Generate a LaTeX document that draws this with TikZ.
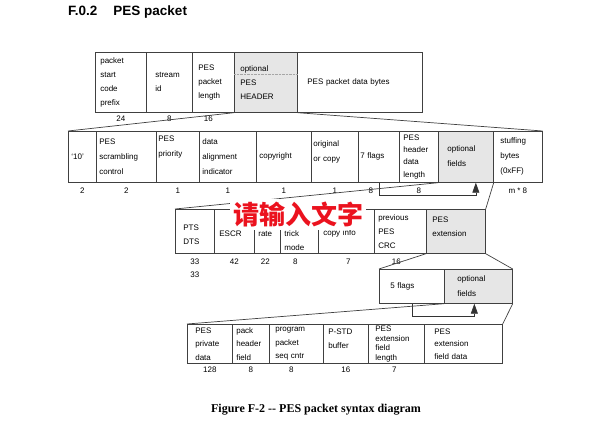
\documentclass[tikz,border=0pt]{standalone}
\usepackage{fontspec}
\setmainfont{Liberation Serif}
\setsansfont{Liberation Sans}
\newfontfamily\cjk{Noto Sans CJK SC}
\usepackage{tikz}
\usetikzlibrary{arrows.meta}
\definecolor{cellgray}{RGB}{230,230,230}
\definecolor{wmred}{RGB}{235,18,30}

\begin{document}
\begin{tikzpicture}[x=1pt, y=-1pt,
  fld/.style={draw=black!75, line width=0.7pt, anchor=north west, align=left, inner xsep=5pt, inner ysep=0pt,
    font=\sffamily\fontsize{8}{14}\selectfont},
  opt/.style={fld, fill=cellgray},
  row1/.style={minimum height=60pt},
  row2/.style={minimum height=51pt, font=\sffamily\fontsize{8}{15}\selectfont},
  row3/.style={minimum height=44pt},
  row4/.style={minimum height=34pt, font=\sffamily\fontsize{8}{15}\selectfont},
  row5/.style={minimum height=39pt, font=\sffamily\fontsize{8}{13.5}\selectfont},
  num/.style={font=\sffamily\fontsize{8}{13}\selectfont, align=center, inner sep=2pt},
  fan/.style={draw=black!75, line width=0.7pt},
  loop/.style={draw=black!80, line width=0.7pt, -{Triangle[length=10pt,width=7pt]}}
]
  \useasboundingbox (0,0) rectangle (600,426);

  \node[anchor=west, inner sep=0pt, font=\sffamily\bfseries\fontsize{13.5}{15}\selectfont] (title) at (68,12) {F.0.2\hspace{16pt}PES packet};

  % PES packet
  \node[fld, row1, text width=41pt] (pfx) at (95,52) {packet\\start\\code\\prefix};
  \node[fld, row1, text width=28pt, inner xsep=9pt] (sid) at (146,52) {stream\\id};
  \node[fld, row1, text width=30pt, inner xsep=6pt] (plen) at (192,52) {PES\\packet\\length};
  \node[opt, row1, text width=51pt, inner xsep=6pt] (hdr) at (234,52) {optional\\PES\\HEADER};
  \node[fld, row1, text width=105pt, inner xsep=10pt] (data) at (297,52) {PES packet data bytes};
  \draw[densely dotted, black!35] ([yshift=-22pt]hdr.north west) -- ([yshift=-22pt]hdr.north east);
  \node[num, below=1pt] (n24) at (pfx.south) {24};
  \node[num, below=1pt] (n8a) at (sid.south) {8};
  \node[num, below=1pt, xshift=-5pt] (n16a) at (plen.south) {16};

  % optional PES header
  \node[fld, row2, text width=22pt, inner xsep=3pt] (c10) at (68,131) {`10'};
  \node[fld, row2, text width=54pt, inner xsep=3pt] (scr) at (96,131) {PES\\scrambling\\control};
  \node[fld, row2, text width=39pt, inner xsep=2pt] (pri) at (156,131) {PES\\priority\\[6pt]\mbox{}};
  \node[fld, row2, text width=51pt, inner xsep=3pt] (dai) at (199,131) {data\\alignment\\indicator};
  \node[fld, row2, text width=49pt, inner xsep=3pt] (cpr) at (256,131) {copyright};
  \node[fld, row2, text width=43pt, inner xsep=2pt] (ooc) at (311,131) {original\\or copy\\[-4pt]\mbox{}};
  \node[fld, row2, text width=37pt, inner xsep=2pt] (flg7) at (358,131) {7 flags};
  \node[fld, row2, text width=31pt, inner xsep=4pt, font=\sffamily\fontsize{8}{12.3}\selectfont] (hdl) at (399,131) {PES\\header\\data\\length};
  \node[opt, row2, text width=37pt, inner xsep=9pt, text height=10pt, text depth=21pt] (optf) at (438,131) {optional\\fields};
  \node[fld, row2, text width=35pt, inner xsep=7pt] (stf) at (493,131) {stuffing\\bytes\\(0xFF)};
  \node[num, below=3pt] (n2a) at (c10.south) {2};
  \node[num, below=3pt] (n2b) at (scr.south) {2};
  \node[num, below=3pt] (n1a) at (pri.south) {1};
  \node[num, below=3pt] (n1b) at (dai.south) {1};
  \node[num, below=3pt] (n1c) at (cpr.south) {1};
  \node[num, below=3pt] (n1d) at (ooc.south) {1};
  \node[num, below=3pt, xshift=-8pt] (n8b) at (flg7.south) {8};
  \node[num, below=3pt] (n8c) at (hdl.south) {8};
  \node[num, below=3pt] (nm8) at (stf.south) {m * 8};
  \draw[fan] (hdr.south west) -- (c10.north west);
  \draw[fan] (hdr.south east) -- (stf.north east);
  \draw[loop] (flg7.south) -- ++(0,13) -| ([xshift=10pt]optf.south);

  % optional fields
  \node[fld, row3, text width=23pt, inner xsep=8pt, text height=15pt, text depth=16pt] (pts) at (175,209) {PTS\\DTS};
  \node[fld, row3, text width=30pt, text height=12pt, text depth=1pt] (escr) at (214,209) {ESCR};
  \node[fld, row3, text width=18pt, inner xsep=4pt, text height=12pt, text depth=2pt] (rate) at (254,209) {rate};
  \node[fld, row3, text width=30pt, inner xsep=4pt, text height=27pt, text depth=16pt] (trk) at (280,209) {trick\\mode};
  \node[fld, row3, text width=46pt, text height=11pt, text depth=2pt] (cpy) at (318,209) {copy info};
  \node[fld, row3, text width=44pt, inner xsep=4pt] (crc) at (374,209) {previous\\PES\\CRC};
  \node[opt, row3, text width=47pt, inner xsep=6pt] (ext) at (426,209) {PES\\extension\\[-4pt]\mbox{}};
  \node[num, below=3pt] (n33) at (pts.south) {33\\33};
  \node[num, below=3pt] (n42) at (escr.south) {42};
  \node[num, below=3pt, xshift=-2pt] (n22) at (rate.south) {22};
  \node[num, below=3pt, xshift=-4pt] (n8d) at (trk.south) {8};
  \node[num, below=3pt, xshift=2pt] (n7a) at (cpy.south) {7};
  \node[num, below=3pt, xshift=-4pt] (n16b) at (crc.south) {16};
  \draw[fan] (optf.south west) -- (pts.north west);
  \draw[fan] (optf.south east) -- (ext.north east);

  \node[fill=white, text=wmred, inner xsep=3pt, inner ysep=0pt, minimum height=31pt, font=\cjk\bfseries\fontsize{26}{28}\selectfont] (wm) at (298,214) {请输入文字};

  % PES extension
  \node[fld, row4, text width=43pt, inner xsep=11pt] (flg5) at (379,269) {5 flags};
  \node[opt, row4, text width=42pt, inner xsep=13pt] (opt2) at (444,269) {optional\\fields};
  \draw[fan] (ext.south west) -- (flg5.north west);
  \draw[fan] (ext.south east) -- (opt2.north east);
  \draw[loop] (flg5.south) -- ++(0,13) -| ([xshift=-4pt]opt2.south);

  % optional fields of PES extension
  \node[fld, row5, text width=29pt, inner xsep=8pt] (prv) at (187,324) {PES\\private\\data};
  \node[fld, row5, text width=29pt, inner xsep=4pt] (phf) at (232,324) {pack\\header\\field};
  \node[fld, row5, text width=42pt, inner xsep=6pt] (psc) at (269,324) {program\\packet\\seq cntr};
  \node[fld, row5, text width=35pt] (std) at (323,324) {P-STD\\buffer\\[-3pt]\mbox{}};
  \node[fld, row5, text width=42pt, inner xsep=7pt, font=\sffamily\fontsize{8}{9.5}\selectfont] (efl) at (368,324) {PES\\extension\\field\\length};
  \node[fld, row5, text width=58pt, inner xsep=10pt, font=\sffamily\fontsize{8}{12.5}\selectfont] (efd) at (424,324) {PES\\extension\\field data};
  \node[num, below=1pt] (n128) at (prv.south) {128};
  \node[num, below=1pt] (n8e) at (phf.south) {8};
  \node[num, below=1pt, xshift=-5pt] (n8f) at (psc.south) {8};
  \node[num, below=1pt] (n16c) at (std.south) {16};
  \node[num, below=1pt, xshift=-2pt] (n7b) at (efl.south) {7};
  \draw[fan] (opt2.south west) -- (prv.north west);
  \draw[fan] (opt2.south east) -- (efd.north east);

  \node[font=\bfseries\fontsize{12}{14}\selectfont] (cap) at (316,410) {Figure F-2 -{}- PES packet syntax diagram};
\end{tikzpicture}
\end{document}
